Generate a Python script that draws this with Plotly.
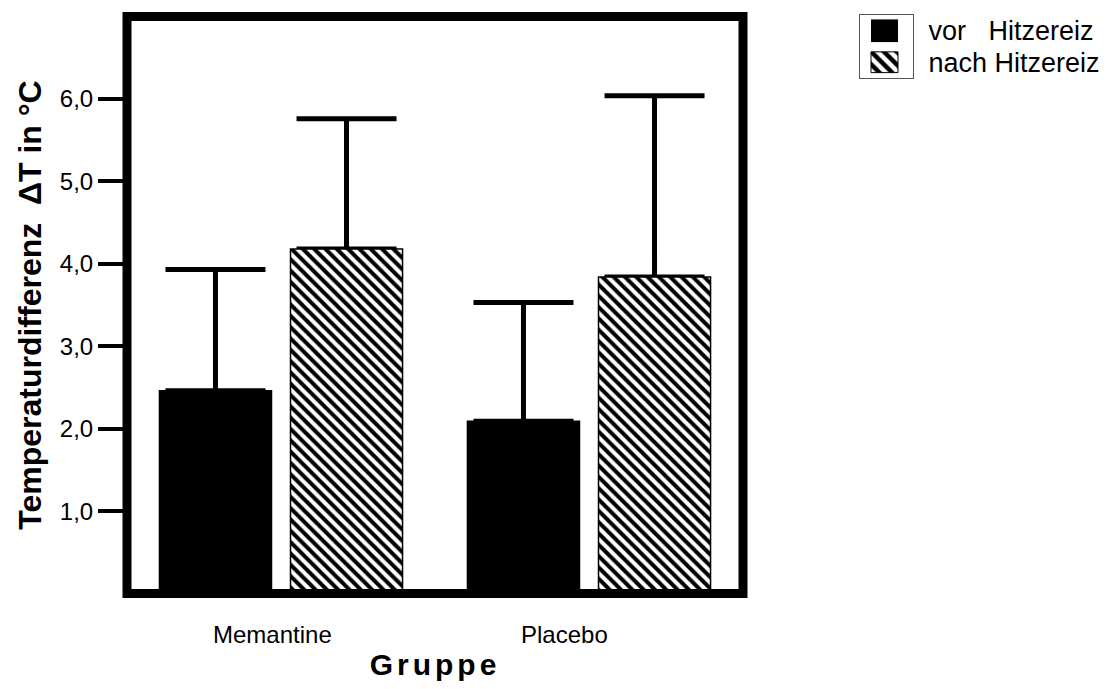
import plotly.graph_objects as go

# ---- data -------------------------------------------------------------
GROUPS = ["Memantine", "Placebo"]
SERIES = ["vor Hitzereiz", "nach Hitzereiz"]
SERIES_LABELS = ["vor\u00a0\u00a0\u00a0Hitzereiz", "nach Hitzereiz"]
VOR_MEAN = [2.46, 2.09]
VOR_ERR = [1.47, 1.44]
NACH_MEAN = [4.18, 3.84]
NACH_ERR = [1.58, 2.20]
Y_TICKS = [1, 2, 3, 4, 5, 6]
Y_TITLE = "Temperaturdifferenz\u00a0\u00a0\u0394T in \u00b0C"
X_TITLE = "Gruppe"

# ---- page geometry (pixels) --------------------------------------------
W, H = 1108, 689
PLOT_L, PLOT_R, PLOT_T, PLOT_B = 127, 743, 16.5, 593.6
LEG_L, LEG_R, LEG_T, LEG_B = 860, 913, 15, 78
SWATCH_L, SWATCH_R = 871, 898

FONT = "Liberation Sans, Arial, Helvetica, sans-serif"


def fx(p):
    return p / W


def fy(p):
    return 1 - p / H


HATCH = dict(shape="\\", fgcolor="black", bgcolor="white", size=8,
             solidity=0.5, fillmode="replace")
OUTLINE = dict(color="black", width=1.5)

fig = go.Figure()

# error bars (upper only), drawn underneath the bars so that the lower
# end of each bar sits hidden below the bar's top edge
for name, mean, err in [(SERIES[0], VOR_MEAN, VOR_ERR), (SERIES[1], NACH_MEAN, NACH_ERR)]:
    fig.add_trace(go.Bar(
        x=GROUPS, y=mean, offsetgroup=name, showlegend=False, hoverinfo="skip",
        marker=dict(color="rgba(0,0,0,0)", line=dict(width=0)),
        error_y=dict(type="data", symmetric=False, array=err,
                     arrayminus=[0] * len(err), color="black",
                     thickness=5, width=50),
    ))

fig.add_trace(go.Bar(
    x=GROUPS, y=VOR_MEAN, name=SERIES[0], offsetgroup=SERIES[0],
    marker=dict(color="black", line=OUTLINE), showlegend=False,
))
fig.add_trace(go.Bar(
    x=GROUPS, y=NACH_MEAN, name=SERIES[1], offsetgroup=SERIES[1],
    marker=dict(color="white", pattern=HATCH, line=OUTLINE), showlegend=False,
))

# legend swatches on a small helper axis pair
sw_base = (SWATCH_L - LEG_L) / (LEG_R - LEG_L)
sw_len = (SWATCH_R - SWATCH_L) / (LEG_R - LEG_L)
fig.add_trace(go.Bar(
    y=[SERIES[0]], x=[sw_len], base=[sw_base], orientation="h",
    width=0.72, offset=-0.36, xaxis="x2", yaxis="y2", showlegend=False,
    hoverinfo="skip", marker=dict(color="black", line=dict(width=0)),
))
fig.add_trace(go.Bar(
    y=[SERIES[1]], x=[sw_len], base=[sw_base], orientation="h",
    width=0.66, offset=-0.33, xaxis="x2", yaxis="y2", showlegend=False,
    hoverinfo="skip", marker=dict(color="white", pattern=dict(HATCH, size=9),
                                  line=dict(color="black", width=1)),
))

fig.update_layout(
    width=W, height=H,
    margin=dict(l=0, r=0, t=0, b=0),
    paper_bgcolor="white", plot_bgcolor="white",
    barmode="group", bargap=0.149, bargroupgap=0.145,
    separators=", ",
    font=dict(family=FONT, color="black"),
    showlegend=False,
    xaxis=dict(
        domain=[fx(PLOT_L), fx(PLOT_R)], type="category",
        showticklabels=False, ticks="", showline=False, showgrid=False,
        zeroline=False, automargin=False,
        title=dict(text='<span style="letter-spacing:4px">' + X_TITLE + "</span>",
                   font=dict(size=30, weight="bold"), standoff=60),
    ),
    yaxis=dict(
        domain=[fy(PLOT_B), fy(PLOT_T)], range=[0, 7],
        tickvals=Y_TICKS, tickformat=".1f", ticks="outside", ticklen=28,
        tickwidth=4, tickcolor="black", tickfont=dict(size=24),
        showline=False, showgrid=False, zeroline=False, automargin=False,
        title=dict(text=Y_TITLE, font=dict(size=32, weight="bold"), standoff=8),
    ),
    xaxis2=dict(
        domain=[fx(LEG_L), fx(LEG_R)], range=[0, 1], anchor="y2",
        showticklabels=False, ticks="", showgrid=False, zeroline=False,
        showline=True, mirror=True, linecolor="#555", linewidth=1,
        fixedrange=True,
    ),
    yaxis2=dict(
        domain=[fy(LEG_B), fy(LEG_T)], anchor="x2", side="right",
        type="category", categoryarray=SERIES, range=[1.5, -0.5],
        tickvals=SERIES, ticktext=SERIES_LABELS, ticks="",
        ticklabelstandoff=9, tickfont=dict(size=27),
        showgrid=False, zeroline=False, showline=True, mirror=True,
        linecolor="#555", linewidth=1, fixedrange=True,
    ),
    shapes=[dict(
        type="rect", xref="x domain", yref="y domain",
        x0=0, x1=1, y0=0, y1=1, layer="above",
        line=dict(color="black", width=9),
    )],
)

# group labels, set left-aligned a fixed distance before each group centre
for g in GROUPS:
    fig.add_annotation(
        x=g, xref="x", y=fy(634), yref="paper", xanchor="left",
        yanchor="middle", xshift=-70, showarrow=False, text=g,
        font=dict(size=24, family=FONT),
    )

fig.write_html("out.html")
